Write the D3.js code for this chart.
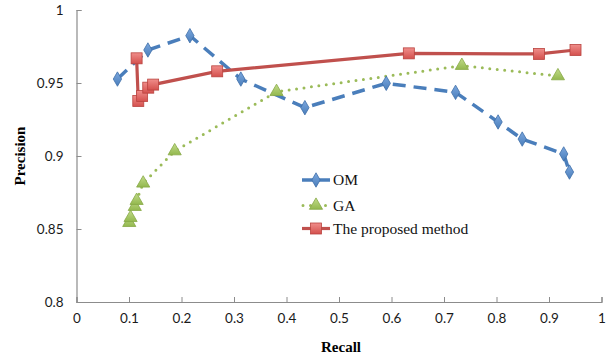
<!DOCTYPE html>
<html><head><meta charset="utf-8">
<script src="https://cdn.jsdelivr.net/npm/d3@7"></script>
<style>body{margin:0;background:#fff}svg{display:block}</style>
</head><body><svg id="c" width="613" height="358"></svg>
<script>
const xTicks=[0,0.1,0.2,0.3,0.4,0.5,0.6,0.7,0.8,0.9,1];
const yTicks=[0.8,0.85,0.9,0.95,1];
const seriesNames=["OM","GA","The proposed method"];
const omRecall=[0.078,0.136,0.216,0.313,0.435,0.590,0.722,0.803,0.849,0.928,0.939];
const omPrecision=[0.9527,0.9726,0.9824,0.9527,0.9331,0.9498,0.9436,0.9233,0.9116,0.9014,0.889];
const gaRecall=[0.1005,0.103,0.111,0.1145,0.127,0.187,0.381,0.734,0.917];
const gaPrecision=[0.8543,0.8577,0.8653,0.8694,0.8813,0.9034,0.944,0.9619,0.9548];
const pmRecall=[0.1145,0.1177,0.125,0.1367,0.146,0.268,0.633,0.881,0.9505];
const pmPrecision=[0.9669,0.9377,0.9411,0.9468,0.9489,0.958,0.9703,0.9699,0.9726];

const svg=d3.select("#c");
const x=d3.scaleLinear().domain([0,1]).range([76.5,601.5]);
const y=d3.scaleLinear().domain([0.8,1]).range([302,10]);
const defs=svg.append("defs");
function grad(id,c1,c2){const g=defs.append("linearGradient").attr("id",id).attr("x1",0).attr("y1",0).attr("x2",0).attr("y2",1);
g.append("stop").attr("offset","0%").attr("stop-color",c1);g.append("stop").attr("offset","100%").attr("stop-color",c2);}
grad("gb","#7BA7DE","#4A7EBB");grad("gg","#C2DC8A","#93B84E");grad("gr","#F08E8B","#D4504D");

const axisColor="#8C8C8C";
const xa=svg.append("g").attr("transform","translate(0,302)").call(d3.axisBottom(x).tickValues(xTicks).tickSize(-5).tickFormat(d=>d3.format("")(d)));
const ya=svg.append("g").attr("transform","translate(76.5,0)").call(d3.axisLeft(y).tickValues(yTicks).tickSize(-5).tickFormat(d=>String(+d.toFixed(2))));
[xa,ya].forEach(a=>{a.select(".domain").attr("stroke",axisColor).attr("stroke-width",1.2);
a.selectAll(".tick line").attr("stroke",axisColor);
a.selectAll("text").attr("font-family","Lato, 'Open Sans', sans-serif").attr("font-size",13.5).attr("fill","#1a1a1a");});
xa.selectAll("text").attr("dy","1.35em");
ya.selectAll("text").attr("x",-13).attr("dy","0.35em");

svg.append("text").attr("x",341).attr("y",352).attr("text-anchor","middle").attr("font-family","'Liberation Serif', 'Times New Roman', serif").attr("font-weight","bold").attr("font-size",15).text("Recall");
svg.append("text").attr("transform","translate(25,156) rotate(-90)").attr("text-anchor","middle").attr("font-family","'Liberation Serif', 'Times New Roman', serif").attr("font-weight","bold").attr("font-size",15).text("Precision");

const om=omRecall.map((r,i)=>[r,omPrecision[i]]);
const ga=gaRecall.map((r,i)=>[r,gaPrecision[i]]);
const pm=pmRecall.map((r,i)=>[r,pmPrecision[i]]);

const lineL=d3.line().x(d=>x(d[0])).y(d=>y(d[1]));

svg.append("path").attr("d",lineL(ga)).attr("fill","none").attr("stroke","#9BBB59").attr("stroke-width",3).attr("stroke-linecap","round").attr("stroke-dasharray","0 7.5");
svg.append("path").attr("d",lineL(om)).attr("fill","none").attr("stroke","#4A7EBB").attr("stroke-width",3.5).attr("stroke-dasharray","13 8");
svg.append("path").attr("d",lineL(pm)).attr("fill","none").attr("stroke","#C0504D").attr("stroke-width",3.2);

const diamond=d3.symbol().type(d3.symbolDiamond).size(60);
const tri=d3.symbol().type(d3.symbolTriangle).size(75);
function drawMarkers(data,sym,fill,stroke){
  svg.append("g").selectAll("path").data(data).join("path")
   .attr("transform",d=>`translate(${x(d[0])},${y(d[1])})`)
   .attr("d",sym).attr("fill",fill).attr("stroke",stroke).attr("stroke-width",0.8);
}
drawMarkers(om,diamond,"url(#gb)","#3F6EA8");
drawMarkers(ga,tri,"url(#gg)","#86A845");
svg.append("g").selectAll("rect").data(pm).join("rect")
  .attr("x",d=>x(d[0])-5.5).attr("y",d=>y(d[1])-5.5).attr("width",11).attr("height",11)
  .attr("fill","url(#gr)").attr("stroke","#B9433F").attr("stroke-width",0.8);

// legend
const lg=svg.append("g");
const rows=[180,205.5,228.5];
const lx0=302,lx1=330,lm=316;
lg.append("line").attr("x1",lx0).attr("x2",lx1).attr("y1",rows[0]).attr("y2",rows[0]).attr("stroke","#4A7EBB").attr("stroke-width",3.5);
lg.append("path").attr("transform",`translate(${lm},${rows[0]})`).attr("d",diamond).attr("fill","url(#gb)").attr("stroke","#3F6EA8").attr("stroke-width",0.8);
lg.append("line").attr("x1",lx0+1).attr("x2",lx1).attr("y1",rows[1]).attr("y2",rows[1]).attr("stroke","#9BBB59").attr("stroke-width",3).attr("stroke-linecap","round").attr("stroke-dasharray","0 7.5");
lg.append("path").attr("transform",`translate(${lm},${rows[1]})`).attr("d",tri).attr("fill","url(#gg)").attr("stroke","#86A845").attr("stroke-width",0.8);
lg.append("line").attr("x1",lx0).attr("x2",lx1).attr("y1",rows[2]).attr("y2",rows[2]).attr("stroke","#C0504D").attr("stroke-width",3.2);
lg.append("rect").attr("x",lm-5.5).attr("y",rows[2]-5.5).attr("width",11).attr("height",11).attr("fill","url(#gr)").attr("stroke","#B9433F").attr("stroke-width",0.8);
lg.selectAll("text").data(seriesNames).join("text").attr("x",333).attr("y",(d,i)=>rows[i]).attr("dy","0.35em")
  .attr("font-family","'Liberation Serif', 'Times New Roman', serif").attr("font-size",15.5).attr("fill","#111").text(d=>d);
</script></body></html>
